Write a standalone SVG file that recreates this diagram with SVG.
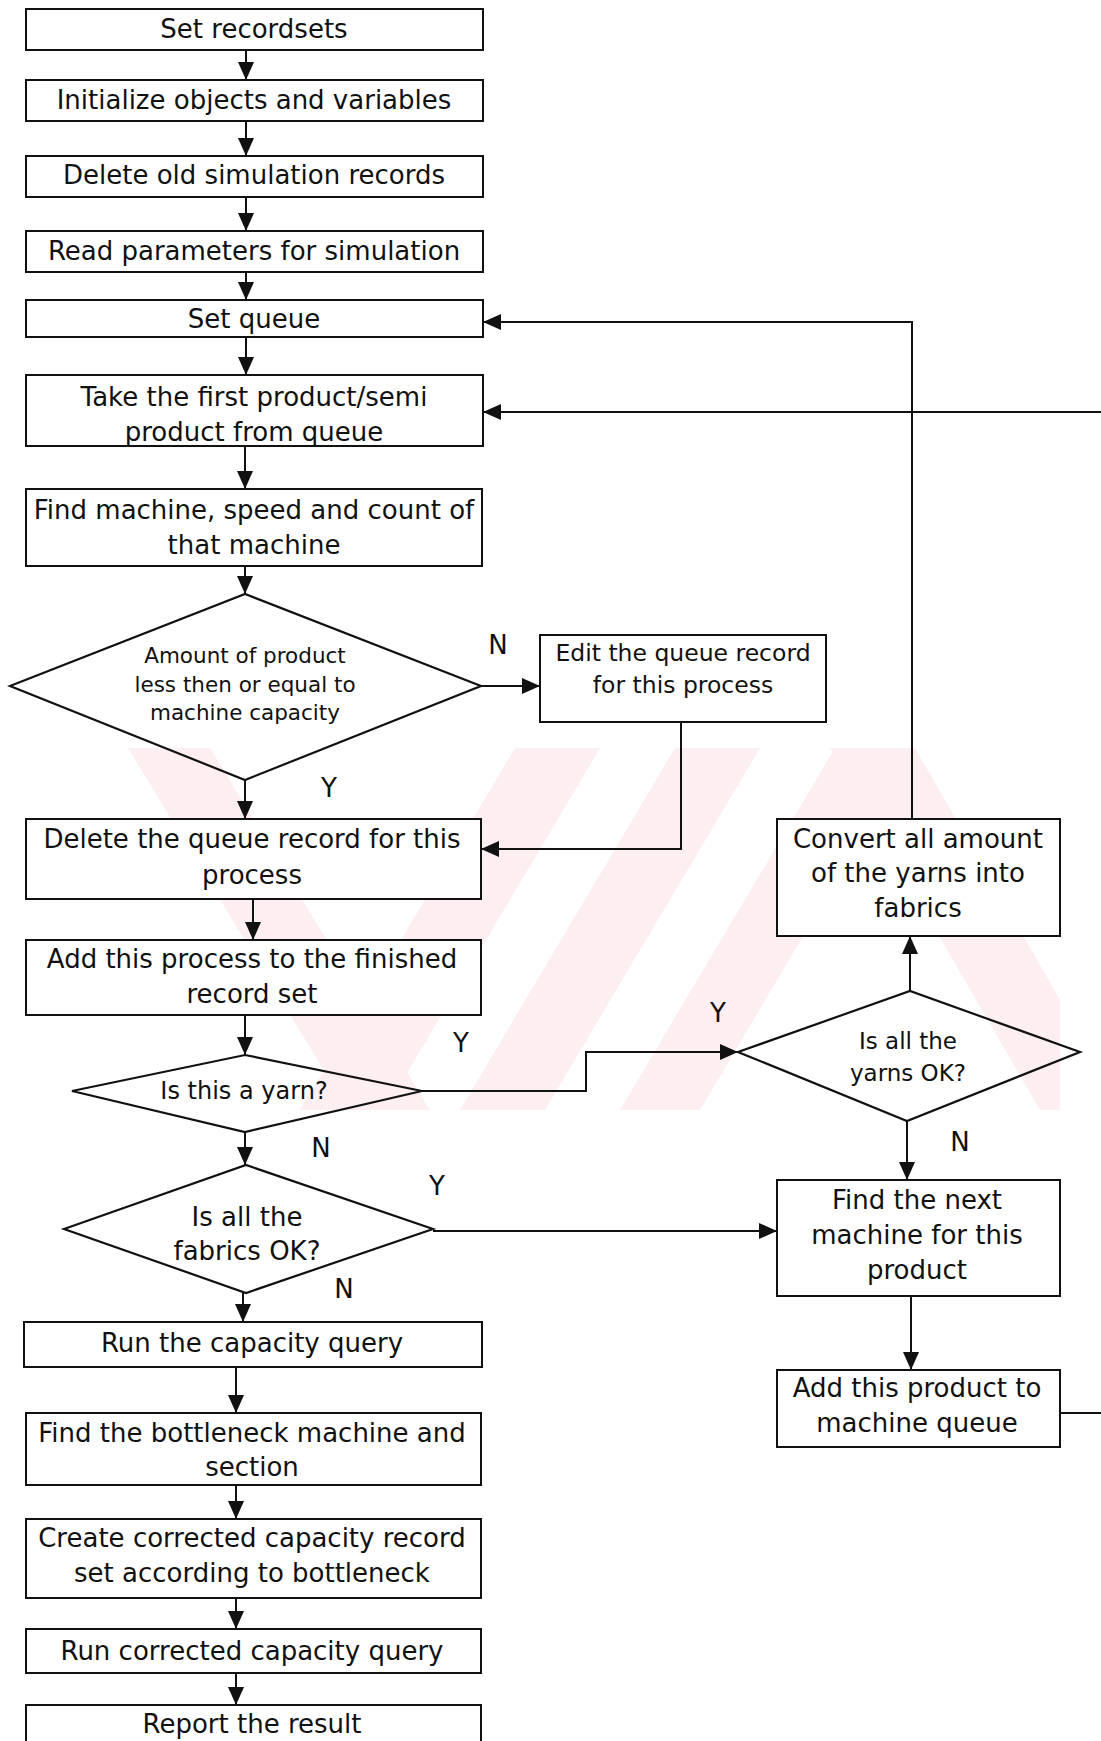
<svg xmlns="http://www.w3.org/2000/svg" width="1101" height="1741" viewBox="0 0 1101 1741">
<style>
.box{fill:#fff;stroke:#111;stroke-width:2}
.dia{fill:none;stroke:#111;stroke-width:2.2}
.t{font-family:"DejaVu Sans","Verdana",sans-serif;font-size:26px;fill:#111;text-anchor:middle}
.s{font-size:21.5px}
.m{font-size:23.5px}
.lbl{font-family:"DejaVu Sans","Verdana",sans-serif;font-size:26px;fill:#111;text-anchor:middle}
.c{fill:none;stroke:#111;stroke-width:2;marker-end:url(#ah)}
.wm{fill:#fdeef1}
</style>
<defs>
<marker id="ah" viewBox="0 0 18 16" refX="18" refY="8" markerWidth="18" markerHeight="16" markerUnits="userSpaceOnUse" orient="auto">
<path d="M0,0 L18,8 L0,16 z" fill="#111"/>
</marker>
</defs>
<rect width="1101" height="1741" fill="#fff"/>
<g id="watermark">
<polygon class="wm" points="128,748 210,748 430,1110 348,1110"/>
<polygon class="wm" points="300,1110 385,1110 600,748 515,748"/>
<polygon class="wm" points="460,1110 545,1110 760,748 675,748"/>
<polygon class="wm" points="620,1110 700,1110 915,748 835,748"/>
<polygon class="wm" points="830,748 915,748 1060,1000 1060,1110 1040,1110"/>
</g>
<g id="connectors">
<path class="c" d="M246,50 V80"/>
<path class="c" d="M246,121 V156"/>
<path class="c" d="M246,197 V231"/>
<path class="c" d="M246,272 V300"/>
<path class="c" d="M246,337 V375"/>
<path class="c" d="M245,446 V489"/>
<path class="c" d="M245,566 V594"/>
<path class="c" d="M245,780 V819"/>
<path class="c" d="M253,899 V940"/>
<path class="c" d="M245,1015 V1055"/>
<path class="c" d="M245,1132 V1165"/>
<path class="c" d="M243,1293 V1322"/>
<path class="c" d="M236,1367 V1413"/>
<path class="c" d="M236,1485 V1519"/>
<path class="c" d="M236,1598 V1629"/>
<path class="c" d="M236,1673 V1705"/>
<path class="c" d="M481,686 H540"/>
<path class="c" d="M681,722 V849 H481"/>
<path class="c" d="M422,1091 H586 V1052 H738"/>
<path class="c" d="M433,1231 H777"/>
<path class="c" d="M910,991 V936"/>
<path class="c" d="M912,819 V322 H483"/>
<path class="c" d="M907,1121 V1180"/>
<path class="c" d="M911,1296 V1370"/>
<path class="c" d="M1060,1413 H1115 V412 H483"/>
</g>
<g id="n1"><rect class="box" x="26" y="9" width="457" height="41"/><text class="t" x="254" y="38">Set recordsets</text></g>
<g id="n2"><rect class="box" x="26" y="80" width="457" height="41"/><text class="t" x="254" y="109">Initialize objects and variables</text></g>
<g id="n3"><rect class="box" x="26" y="156" width="457" height="41"/><text class="t" x="254" y="184">Delete old simulation records</text></g>
<g id="n4"><rect class="box" x="26" y="231" width="457" height="41"/><text class="t" x="254" y="260">Read parameters for simulation</text></g>
<g id="n5"><rect class="box" x="26" y="300" width="457" height="37"/><text class="t" x="254" y="328">Set queue</text></g>
<g id="n6"><rect class="box" x="26" y="375" width="457" height="71"/><text class="t" x="254" y="406">Take the first product/semi</text><text class="t" x="254" y="441">product from queue</text></g>
<g id="n7"><rect class="box" x="26" y="489" width="456" height="77"/><text class="t" x="254" y="519">Find machine, speed and count of</text><text class="t" x="254" y="554">that machine</text></g>
<g id="d1"><polygon class="dia" points="10,686 245,594 481,686 245,780"/><text class="t s" x="245" y="663">Amount of product</text><text class="t s" x="245" y="692">less then or equal to</text><text class="t s" x="245" y="720">machine capacity</text></g>
<g id="n8"><rect class="box" x="540" y="635" width="286" height="87"/><text class="t m" x="683" y="661">Edit the queue record</text><text class="t m" x="683" y="693">for this process</text></g>
<g id="n9"><rect class="box" x="26" y="819" width="455" height="80"/><text class="t" x="252" y="848">Delete the queue record for this</text><text class="t" x="252" y="884">process</text></g>
<g id="n10"><rect class="box" x="26" y="940" width="455" height="75"/><text class="t" x="252" y="968">Add this process to the finished</text><text class="t" x="252" y="1003">record set</text></g>
<g id="d2"><polygon class="dia" points="72,1091 245,1055 422,1091 245,1132"/><text class="t" style="font-size:24px" x="244" y="1099">Is this a yarn?</text></g>
<g id="d3"><polygon class="dia" points="64,1229 246,1165 433,1229 246,1293"/><text class="t" x="247" y="1226">Is all the</text><text class="t" x="247" y="1260">fabrics OK?</text></g>
<g id="n11"><rect class="box" x="24" y="1322" width="458" height="45"/><text class="t" x="252" y="1352">Run the capacity query</text></g>
<g id="n12"><rect class="box" x="26" y="1413" width="455" height="72"/><text class="t" x="252" y="1442">Find the bottleneck machine and</text><text class="t" x="252" y="1476">section</text></g>
<g id="n13"><rect class="box" x="26" y="1519" width="455" height="79"/><text class="t" x="252" y="1547">Create corrected capacity record</text><text class="t" x="252" y="1582">set according to bottleneck</text></g>
<g id="n14"><rect class="box" x="26" y="1629" width="455" height="44"/><text class="t" x="252" y="1660">Run corrected capacity query</text></g>
<g id="n15"><rect class="box" x="26" y="1705" width="455" height="50"/><text class="t" x="252" y="1733">Report the result</text></g>
<g id="n16"><rect class="box" x="777" y="819" width="283" height="117"/><text class="t" x="918" y="848">Convert all amount</text><text class="t" x="918" y="882">of the yarns into</text><text class="t" x="918" y="917">fabrics</text></g>
<g id="d4"><polygon class="dia" points="738,1052 910,991 1080,1052 907,1121"/><text class="t" style="font-size:23px" x="908" y="1049">Is all the</text><text class="t" style="font-size:23px" x="908" y="1081">yarns OK?</text></g>
<g id="n17"><rect class="box" x="777" y="1180" width="283" height="116"/><text class="t" x="917" y="1209">Find the next</text><text class="t" x="917" y="1244">machine for this</text><text class="t" x="917" y="1279">product</text></g>
<g id="n18"><rect class="box" x="777" y="1370" width="283" height="77"/><text class="t" x="917" y="1397">Add this product to</text><text class="t" x="917" y="1432">machine queue</text></g>
<g id="labels">
<text class="lbl" x="498" y="654">N</text>
<text class="lbl" x="329" y="797">Y</text>
<text class="lbl" x="461" y="1052">Y</text>
<text class="lbl" x="718" y="1022">Y</text>
<text class="lbl" x="321" y="1157">N</text>
<text class="lbl" x="437" y="1195">Y</text>
<text class="lbl" x="344" y="1298">N</text>
<text class="lbl" x="960" y="1151">N</text>
</g>
</svg>
